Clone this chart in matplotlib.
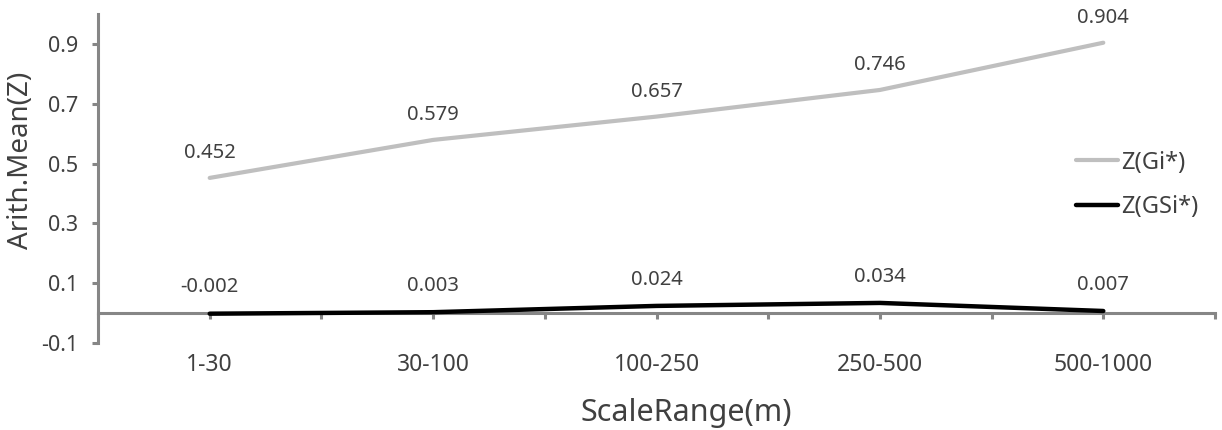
import matplotlib.pyplot as plt
import numpy as np

categories = ["1-30", "30-100", "100-250", "250-500", "500-1000"]
z_gi = [0.452, 0.579, 0.657, 0.746, 0.904]
z_gsi = [-0.002, 0.003, 0.024, 0.034, 0.007]
y_ticks = [-0.1, 0.1, 0.3, 0.5, 0.7, 0.9]

plt.rcParams['font.family'] = ['Noto Sans', 'DejaVu Sans']
text_col = "#404040"
axis_col = "#868686"

fig = plt.figure(figsize=(12.22, 4.30), dpi=100)
ax = fig.add_axes([98 / 1222, 1 - 343 / 430, (1215 - 98) / 1222, (343 - 14) / 430])

x = np.arange(len(categories))
ax.plot(x, z_gi, color="#BFBFBF", linewidth=3.0, label="Z(Gi*)", solid_capstyle="round", zorder=3)
ax.plot(x, z_gsi, color="black", linewidth=3.2, label="Z(GSi*)", solid_capstyle="round", zorder=3)

# data labels
for xi, v in zip(x, z_gi):
    ax.annotate(f"{v:.3f}", (xi, v), xytext=(0, 18), textcoords="offset points",
                ha="center", va="center", fontsize=14.5, color=text_col)
for xi, v in zip(x, z_gsi):
    ax.annotate(f"{v:.3f}", (xi, v), xytext=(0, 19), textcoords="offset points",
                ha="center", va="center", fontsize=14.5, color=text_col)

ax.set_xlim(-0.5, len(categories) - 0.5)
ax.set_ylim(-0.1, 1.0)
ax.set_yticks(y_ticks)
ax.set_yticklabels([f"{t:.1f}" for t in y_ticks])

ax.spines['top'].set_visible(False)
ax.spines['right'].set_visible(False)
ax.spines['bottom'].set_position(('data', 0))
for s in ['left', 'bottom']:
    ax.spines[s].set_color(axis_col)
    ax.spines[s].set_linewidth(2.2)

ax.set_xticks(x)
ax.set_xticklabels(categories)
ax.set_xticks(np.arange(-0.5, len(categories), 1.0), minor=True)
ax.tick_params(axis='x', which='major', length=4.5, width=2.2, color=axis_col,
               labelsize=16.5, labelcolor=text_col, pad=24)
ax.tick_params(axis='x', which='minor', length=4.5, width=2.2, color=axis_col)
ax.tick_params(axis='y', length=4.5, width=2.2, color=axis_col, labelsize=15.5,
               labelcolor=text_col, pad=9.5)

fig.text(21.5 / 1222, 1 - 160 / 430, "Arith.Mean(Z)", rotation=90, ha="center", va="center",
         fontsize=20, color=text_col)
fig.text(686 / 1222, 1 - 413 / 430, "ScaleRange(m)", ha="center", va="center",
         fontsize=22, color=text_col)

ax.legend(loc="center left", bbox_to_anchor=(0.876, 0.48), frameon=False,
          borderpad=0, borderaxespad=0, fontsize=17, handlelength=1.75,
          handletextpad=0.12, labelspacing=0.88, labelcolor=text_col)

fig.savefig("out.png", dpi=100, facecolor="white")
